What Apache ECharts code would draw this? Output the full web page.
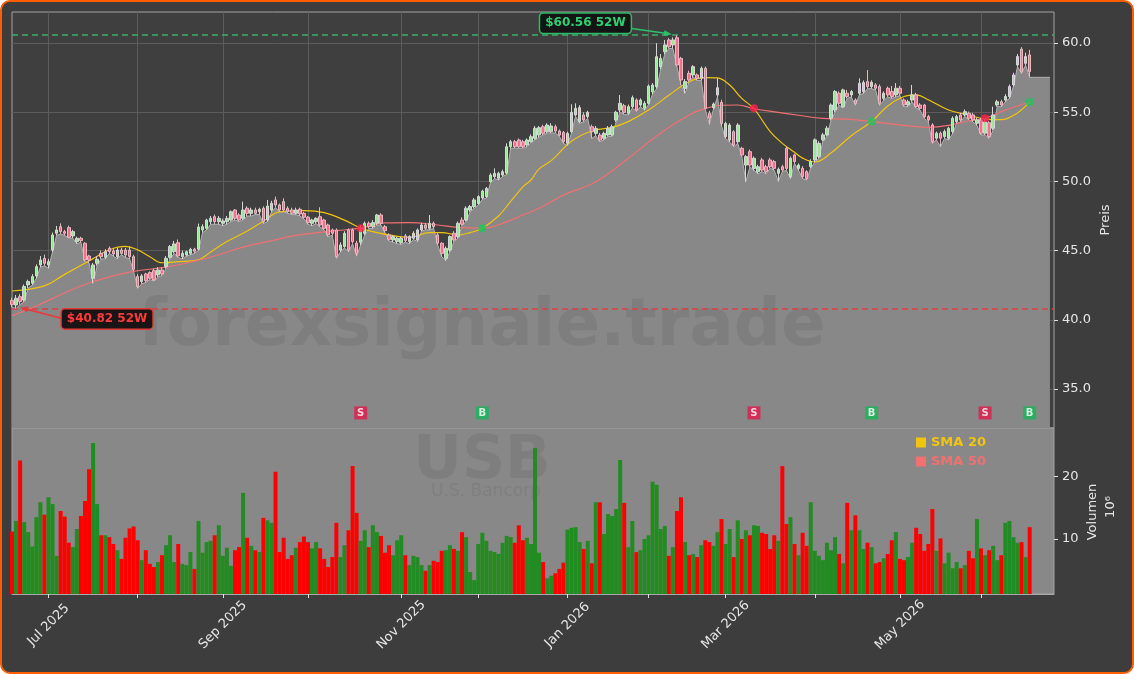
<!DOCTYPE html>
<html><head><meta charset="utf-8">
<script src="https://cdn.jsdelivr.net/npm/echarts@6/dist/echarts.min.js"></script>
<style>
html,body{margin:0;padding:0;background:#ffffff;}
#frame{position:absolute;left:0;top:0;width:1134px;height:674px;box-sizing:border-box;border:2.5px solid #ff5f00;border-radius:10px;background:#3d3d3d;}
#chart{position:absolute;left:0;top:0;width:1134px;height:674px;}
</style></head><body>
<div id="frame"></div><div id="chart"></div>
<script>
// ---------- data ----------
const opens = [
41.40,41.07,41.67,41.43,42.52,42.64,43.17,43.96,44.44,43.96,
45.04,46.25,46.73,46.37,46.66,46.06,45.65,45.89,45.53,44.61,
43.00,44.08,44.80,44.51,45.16,44.97,44.56,45.04,45.04,45.04,
44.56,43.12,42.76,43.31,43.41,43.55,43.24,43.60,43.84,44.51,
44.92,45.57,44.56,44.68,44.80,45.10,45.10,46.49,46.61,47.09,
47.45,47.09,46.97,47.09,47.21,47.93,47.57,47.33,48.06,47.69,
47.93,47.81,48.06,47.21,47.93,48.66,48.30,48.54,48.06,47.93,
47.69,47.98,47.69,47.41,46.97,47.09,47.45,47.21,46.85,46.49,
46.49,45.04,45.29,46.49,46.49,45.53,45.60,46.25,46.97,46.73,
46.97,47.57,46.73,46.13,45.77,45.65,45.57,46.06,45.65,45.89,
45.77,46.49,46.85,46.61,46.97,46.13,45.53,44.44,45.04,46.25,
46.01,47.20,47.21,47.93,48.18,48.40,48.80,48.90,49.98,50.34,
50.22,50.46,50.60,52.51,52.87,52.99,52.87,52.63,52.87,53.11,
53.35,53.95,53.59,53.59,53.95,53.64,53.54,52.75,53.59,54.80,
54.32,54.80,54.68,53.95,53.47,53.35,53.11,53.35,53.35,54.44,
55.16,55.47,54.92,55.40,55.88,55.52,55.28,55.64,56.48,56.84,
58.29,59.37,60.22,59.86,60.38,58.89,56.72,57.81,57.69,57.69,
57.45,58.17,54.92,55.33,56.24,55.71,53.23,52.99,53.59,52.87,
52.39,51.18,52.15,50.94,50.70,51.55,51.06,51.55,51.43,50.58,
51.06,52.39,50.34,51.91,50.94,50.95,50.71,51.07,51.55,51.79,
53.00,53.36,54.56,55.16,56.37,55.40,56.37,56.25,55.88,56.37,
56.49,57.21,56.85,56.97,56.85,56.00,56.73,56.49,56.25,56.73,
55.88,55.52,55.88,56.25,55.52,55.52,54.68,54.08,53.12,53.48,
53.24,53.12,53.60,54.32,54.80,54.80,54.92,54.80,54.20,54.44,
53.48,54.24,53.84,55.52,55.76,55.88,56.13,56.97,58.41,59.55,
58.53,59.14];
const highs = [
41.60,41.79,41.85,42.55,42.90,43.30,44.00,44.60,44.70,44.40,
46.30,46.78,46.97,46.50,46.80,46.50,46.00,46.00,45.60,44.70,
44.10,44.60,45.00,45.10,45.30,45.20,45.20,45.20,45.20,45.30,
44.70,43.30,43.30,43.40,43.50,43.70,43.80,43.80,44.60,45.40,
45.70,45.80,45.00,45.00,45.20,45.20,46.95,46.90,47.30,47.50,
47.60,47.50,47.30,47.50,47.90,48.00,47.70,48.54,48.20,48.10,
48.10,48.10,48.20,48.66,48.60,48.90,48.40,48.78,48.20,48.10,
48.10,48.10,47.80,47.50,47.30,47.40,48.13,47.30,46.95,46.60,
46.60,45.60,46.40,46.60,46.60,45.70,46.85,47.10,47.10,47.20,
47.65,47.70,46.85,46.25,46.10,46.00,46.00,46.20,46.10,46.40,
46.60,47.00,47.00,47.57,47.10,46.30,45.60,45.30,46.10,46.40,
47.10,47.40,48.20,48.30,48.80,49.00,49.40,49.60,50.60,50.94,
50.70,50.85,52.75,53.00,53.00,53.10,53.00,53.10,53.40,54.00,
54.00,54.10,54.20,54.20,54.10,53.75,53.65,53.60,55.57,55.64,
55.50,55.00,55.10,54.10,54.00,53.50,53.60,54.00,54.10,55.10,
56.24,55.60,55.55,56.20,56.00,56.00,55.80,57.00,57.10,59.98,
59.20,60.22,60.35,60.40,60.56,59.00,57.40,58.00,58.40,57.80,
58.30,58.30,55.10,55.70,57.45,55.90,54.30,54.20,53.70,54.20,
52.50,51.90,52.30,51.80,51.20,51.70,51.20,51.70,51.55,51.00,
51.20,52.50,51.80,52.00,51.30,51.10,50.80,51.60,53.10,52.90,
53.50,54.00,55.64,56.60,56.50,56.70,56.61,56.60,56.00,57.45,
57.30,58.05,57.30,57.10,57.00,56.50,56.85,56.90,57.10,56.90,
56.00,55.90,56.97,56.40,55.65,55.60,54.80,54.20,53.60,53.60,
53.75,53.95,54.70,54.80,54.95,55.20,55.05,54.95,54.60,54.60,
54.50,54.35,55.40,55.90,55.90,56.30,57.00,57.85,59.20,59.70,
59.30,59.50];
const lows = [
40.90,40.82,41.10,41.30,42.30,42.50,43.00,43.80,43.90,43.72,
44.90,46.10,46.20,46.10,45.90,45.90,45.50,45.60,44.20,44.10,
42.64,43.90,44.40,44.40,44.80,44.60,44.40,44.70,44.50,44.40,
43.50,42.27,42.60,42.70,42.90,42.80,43.10,43.20,43.70,44.40,
44.80,44.50,44.40,44.60,44.70,44.80,45.00,46.30,46.50,46.90,
46.90,46.90,46.80,46.90,47.10,47.20,47.10,47.20,47.50,47.50,
47.60,47.60,46.95,47.10,47.80,48.10,47.80,47.80,47.70,47.60,
47.60,47.50,47.30,46.90,46.80,46.95,46.70,46.50,46.00,46.10,
44.44,44.90,45.20,44.90,45.50,44.60,45.40,46.10,46.60,46.60,
46.85,46.85,46.30,45.70,45.60,45.50,45.45,45.60,45.50,45.80,
45.65,46.40,46.50,46.50,46.60,45.40,44.56,44.27,44.90,45.65,
45.90,46.80,47.10,47.80,48.05,48.30,48.70,48.80,49.90,50.20,
50.10,50.35,50.50,52.40,52.40,52.39,52.40,52.50,52.80,53.00,
53.20,53.35,53.50,53.50,53.50,53.25,52.75,52.60,53.50,54.70,
54.20,54.30,54.55,53.11,53.30,52.87,53.00,53.25,53.25,54.30,
55.00,54.85,54.80,55.30,55.05,55.40,55.15,55.55,56.30,56.70,
58.10,59.20,59.60,59.60,58.30,56.96,56.36,57.20,57.55,57.30,
57.30,55.20,54.12,55.20,56.10,54.00,53.10,52.85,52.50,52.75,
51.80,49.98,51.05,50.80,50.55,50.70,50.55,50.95,50.80,50.00,
50.70,50.80,50.20,51.30,50.80,50.20,50.10,50.95,51.40,51.65,
52.90,53.25,54.40,55.00,55.50,55.30,56.00,56.10,55.50,56.25,
56.35,56.70,56.70,56.60,55.50,55.85,56.10,56.00,56.10,56.20,
55.40,55.40,55.75,55.30,55.15,54.55,54.30,52.75,53.00,52.51,
53.10,53.00,53.45,54.20,54.30,54.70,54.45,54.30,54.05,53.36,
53.36,53.10,53.70,55.40,55.40,55.75,56.00,56.85,58.30,57.80,
58.40,57.52];
const closes = [
41.10,41.55,41.31,42.40,42.76,43.12,43.84,44.32,44.08,44.20,
46.13,46.49,46.37,46.25,45.96,46.37,45.89,45.72,44.32,44.32,
43.96,44.37,44.56,44.92,44.92,44.76,45.04,44.80,44.68,44.56,
43.65,42.40,43.17,42.83,43.00,42.88,43.60,43.31,44.44,45.29,
45.48,44.61,44.80,44.92,45.09,44.95,46.70,46.73,47.21,47.33,
47.09,47.33,47.14,47.33,47.81,47.33,47.21,47.93,47.69,47.93,
47.69,47.98,47.09,48.22,48.42,48.30,47.93,47.93,47.81,47.69,
47.93,47.65,47.41,47.02,47.21,47.33,46.85,46.61,46.13,46.25,
44.56,45.41,46.25,45.04,45.65,44.80,46.50,46.97,46.73,47.02,
47.57,46.97,46.44,45.81,46.01,45.89,45.89,45.72,46.01,46.25,
46.49,46.85,46.61,46.97,46.73,45.53,44.80,45.16,46.01,45.77,
46.97,46.90,48.06,48.18,48.66,48.90,49.30,49.50,50.46,50.58,
50.58,50.70,52.50,52.87,52.51,52.50,52.51,52.99,53.23,53.84,
53.88,53.47,54.07,54.00,53.64,53.35,52.87,53.47,54.99,55.28,
55.33,54.44,54.99,53.59,53.83,52.99,53.47,53.83,53.95,54.99,
55.64,54.99,55.40,56.05,55.16,55.88,55.64,56.89,56.96,59.01,
58.89,59.86,59.73,60.22,58.41,57.33,57.21,57.33,58.29,57.45,
58.17,55.28,54.56,55.59,56.77,54.19,54.19,54.07,52.63,54.07,
51.91,51.79,51.18,51.67,51.06,50.82,50.70,51.06,50.94,50.87,
50.82,50.94,51.67,51.43,51.18,50.35,50.22,51.43,53.00,52.75,
53.36,53.84,55.52,56.49,55.64,56.61,56.13,56.49,55.64,57.09,
57.14,56.85,57.16,56.73,55.64,56.37,56.25,56.13,56.73,56.37,
55.52,55.76,56.25,55.40,55.28,54.68,54.44,52.87,53.48,53.12,
53.60,53.84,54.56,54.68,54.44,55.04,54.56,54.44,54.44,53.48,
54.32,53.24,54.80,55.76,55.52,56.13,56.85,57.69,59.02,57.93,
59.02,57.93];
const volumes = [
11.2,12.9,22.6,12.7,11.1,8.8,13.5,15.9,13.9,16.7,
15.6,7.3,14.5,13.6,9.4,8.7,11.6,13.7,16.1,21.2,
25.4,15.6,10.6,10.6,10.3,9.2,8.2,6.8,10.2,11.7,
12.0,9.8,6.6,8.2,6.0,5.5,6.3,7.4,9.0,10.6,
6.3,9.2,6.0,5.8,7.9,5.2,12.9,7.8,9.5,9.7,
10.6,12.2,7.3,8.6,5.7,8.2,8.7,17.4,10.2,8.9,
8.2,7.9,13.4,13.0,12.6,20.8,7.9,10.2,6.8,7.4,
8.6,9.5,10.4,9.5,8.5,9.5,8.5,6.8,5.5,7.1,
12.6,7.1,9.0,11.4,21.7,14.2,9.7,11.4,8.7,12.2,
11.1,10.5,7.8,9.0,7.4,9.8,10.6,7.4,5.8,7.3,
7.1,5.8,4.9,5.8,6.5,6.3,8.1,8.2,9.0,8.4,
8.1,11.1,10.3,4.7,3.4,9.2,11.0,9.7,8.1,7.9,
7.6,9.4,10.5,10.3,9.4,12.2,9.8,10.2,9.2,24.6,
7.8,6.3,3.7,4.1,4.5,5.2,6.2,11.5,11.8,11.9,
9.5,8.4,9.7,6.1,15.9,15.9,10.8,14.0,13.7,14.8,
22.7,15.8,8.7,12.9,7.9,8.2,10.0,10.6,19.2,18.7,
11.6,12.1,7.3,8.7,14.5,16.7,9.5,7.4,7.6,7.1,
9.0,9.8,9.5,8.9,11.1,13.2,9.2,11.6,7.1,13.0,
10.0,11.4,10.6,12.2,12.1,11.0,10.8,8.4,10.6,9.7,
21.7,12.4,13.5,9.2,7.4,11.0,8.9,15.9,8.1,7.3,
6.6,9.4,8.2,10.3,7.6,6.1,15.8,11.4,13.8,11.4,
8.4,9.4,8.7,6.1,6.3,6.9,7.6,9.8,11.1,6.8,
6.6,7.1,9.4,11.8,10.8,8.1,9.2,14.8,8.1,10.1,
6.1,7.8,5.3,6.3,5.3,5.8,8.1,6.9,13.2,8.5,
7.4,8.2,8.9,6.6,7.4,12.6,12.9,10.3,9.4,9.5,
7.1,11.9];
// moving averages read at sample points [day index, value]
const sma20 = [[0,42.08],[8,42.45],[13,43.28],[20,44.42],[24,45.06],[28,45.3],[31,45.05],[34,44.56],[37,44.12],[41,44.2],[46,44.34],[49,44.9],[53,45.65],[57,46.25],[62,47.12],[66,47.8],[72,47.89],[77,47.74],[82,47.2],[86,46.62],[88,46.44],[93,46.13],[98,45.96],[103,46.3],[106,46.3],[110,46.13],[113,46.3],[116,46.62],[120,47.5],[123,48.56],[126,49.6],[128,50.1],[130,50.9],[133,51.5],[138,52.9],[143,53.64],[148,53.9],[152,54.32],[157,55.15],[162,56.22],[167,57.2],[171,57.5],[174,57.48],[177,56.96],[180,56.0],[183,55.25],[187,53.6],[190,52.75],[193,52.1],[195,51.68],[198,51.4],[202,52.05],[207,53.3],[212,54.33],[216,55.45],[220,56.13],[223,56.25],[226,55.9],[231,55.16],[236,54.8],[240,54.5],[244,54.46],[248,54.95],[251,55.74]];
const sma50 = [[0,40.3],[6,41.0],[13,41.95],[18,42.55],[24,43.1],[30,43.5],[38,43.8],[46,44.3],[51,44.7],[57,45.25],[63,45.65],[71,46.13],[80,46.44],[86,46.62],[92,47.0],[98,47.02],[105,46.85],[110,46.68],[116,46.62],[121,46.97],[126,47.57],[130,48.06],[136,49.02],[144,49.98],[152,51.67],[160,53.5],[167,54.8],[171,55.28],[175,55.5],[179,55.52],[183,55.25],[189,54.99],[194,54.78],[200,54.55],[206,54.5],[212,54.33],[219,54.08],[226,53.91],[231,54.05],[236,54.38],[240,54.56],[245,55.15],[251,55.74]];
const signalIdx = [86,116,183,212,240,251];
const signalType = ['S','B','S','B','S','B'];
const signalValue = [46.62,46.62,55.28,54.33,54.56,55.74];
const priceTicks = [35,40,45,50,55,60];
const volumeTicks = [10,20];
const high52 = 60.56, low52 = 40.82;
const holidays = ['2025-06-19','2025-07-04','2025-09-01','2025-11-27','2025-12-25','2026-01-01','2026-01-19','2026-02-16','2026-04-03','2026-05-25','2026-06-19'];
const firstDay = '2025-06-17';
const nCategories = 258;
const areaEnd = 256;

// ---------- build ----------
function ymd(d){return d.getUTCFullYear()+'-'+String(d.getUTCMonth()+1).padStart(2,'0')+'-'+String(d.getUTCDate()).padStart(2,'0');}
const dates=[];
{let p=firstDay.split('-').map(Number);let d=new Date(Date.UTC(p[0],p[1]-1,p[2]));
 while(dates.length<nCategories){const wd=d.getUTCDay();const s=ymd(d);if(wd!==0&&wd!==6&&holidays.indexOf(s)<0)dates.push(s);d=new Date(d.getTime()+86400000);}}
const MON=['Jan','Feb','Mar','Apr','May','Jun','Jul','Aug','Sep','Oct','Nov','Dec'];
const isMonthStart=i=>i>0&&dates[i].slice(0,7)!==dates[i-1].slice(0,7);
const isLabelMonth=i=>isMonthStart(i)&&((+dates[i].slice(5,7))-1)%2===0;
const FONT='DejaVu Sans';
const TXT='#e6e6e6';
const lastLow=lows[lows.length-1];
const areaData=dates.map((_,i)=>i<lows.length?lows[i]:(i<=areaEnd?lastLow:null));
const candleData=opens.map((o,i)=>[o,closes[i],lows[i],highs[i]]);
const volData=volumes.map((v,i)=>({value:v,itemStyle:{color:closes[i]>=opens[i]?'#228b22':'#ff0000'}}));
const signalRow=33.27;

const chart=echarts.init(document.getElementById('chart'),null,{renderer:'canvas'});
const option={
  animation:false,
  backgroundColor:'transparent',
  textStyle:{fontFamily:FONT},
  grid:[
    {left:12,top:12,width:1042,height:416,show:true,backgroundColor:'#3f3f3f',borderColor:'#a4a4a4',borderWidth:1,outerBoundsMode:'none'},
    {left:12,top:428,width:1042,height:166,show:true,backgroundColor:'#888888',borderColor:'#a4a4a4',borderWidth:1,outerBoundsMode:'none'}
  ],
  legend:{
    data:[{name:'SMA 20',textStyle:{color:'#f2c40f'}},{name:'SMA 50',textStyle:{color:'#f27070'}}],
    orient:'vertical',left:911,top:431,icon:'rect',itemWidth:10,itemHeight:10,itemGap:6,selectedMode:false,
    textStyle:{fontFamily:FONT,fontSize:13,fontWeight:'bold'}
  },
  xAxis:[
    {type:'category',gridIndex:0,data:dates,boundaryGap:false,axisLine:{show:false},axisTick:{show:false},axisLabel:{show:false},
     splitLine:{show:true,interval:(i)=>isMonthStart(i),lineStyle:{color:'#5c5c5c',width:1}}},
    {type:'category',gridIndex:1,data:dates,boundaryGap:false,axisLine:{show:true,lineStyle:{color:'#a8a8a8'}},
     axisTick:{show:true,interval:(i)=>isMonthStart(i),length:4,lineStyle:{color:'#e0e0e0'}},
     axisLabel:{interval:(i)=>isLabelMonth(i),rotate:45,align:'center',verticalAlign:'middle',margin:31,color:TXT,fontSize:13,fontFamily:FONT,
       formatter:(v)=>MON[+v.slice(5,7)-1]+' '+v.slice(0,4)},
     splitLine:{show:false}}
  ],
  yAxis:[
    {type:'value',gridIndex:0,position:'right',min:32.18,max:62.24,scale:true,
     axisLine:{show:false},axisTick:{show:true,length:4,lineStyle:{color:'#e0e0e0'},customValues:priceTicks},
     axisLabel:{customValues:priceTicks,color:TXT,fontSize:13,fontFamily:FONT,margin:8,
       formatter:(v)=>(Math.abs(v/5-Math.round(v/5))<1e-6?v.toFixed(1):'')},
     splitLine:{show:true,lineStyle:{color:'#5c5c5c',width:1}}},
    {type:'value',gridIndex:1,position:'right',min:1.17,max:27.82,splitNumber:3,scale:true,
     axisLine:{show:false},axisTick:{show:true,length:4,lineStyle:{color:'#e0e0e0'},customValues:volumeTicks},
     axisLabel:{customValues:volumeTicks,color:TXT,fontSize:13,fontFamily:FONT,margin:8,
       formatter:(v)=>(Math.abs(v/10-Math.round(v/10))<1e-6?String(Math.round(v)):'')},
     splitLine:{show:false}}
  ],
  series:[
    {name:'Tief',type:'line',xAxisIndex:0,yAxisIndex:0,data:areaData,symbol:'none',z:2,
     lineStyle:{color:'#b2b2b2',width:1},areaStyle:{color:'#888888',opacity:1},
     markLine:{symbol:'none',silent:true,label:{show:false},
       data:[{yAxis:high52,lineStyle:{color:'#3fae6a',type:[6,4],width:1.5}},{yAxis:low52,lineStyle:{color:'#d94242',type:[6,4],width:1.5}}]}},
    {name:'SMA 20',type:'line',xAxisIndex:0,yAxisIndex:0,data:sma20,smooth:0.4,symbol:'none',z:4,color:'#f2c40f',lineStyle:{color:'#f2c40f',width:1.2}},
    {name:'SMA 50',type:'line',xAxisIndex:0,yAxisIndex:0,data:sma50,smooth:0.4,symbol:'none',z:4,color:'#f27070',lineStyle:{color:'#f27070',width:1.2}},
    {name:'Kurs',type:'candlestick',xAxisIndex:0,yAxisIndex:0,data:candleData,barWidth:3,z:5,
     itemStyle:{color:'#98e898',color0:'#f4708c',borderColor:'#d6d6d6',borderColor0:'#e8b8c2',borderWidth:1}},
    {name:'Kreuzung',type:'scatter',xAxisIndex:0,yAxisIndex:0,symbol:'circle',symbolSize:8,z:6,
     data:signalIdx.map((ix,k)=>({value:[ix,signalValue[k]],itemStyle:{color:signalType[k]==='S'?'#ff1f4b':'#1fc45a'}}))},
    {name:'Signal',type:'scatter',xAxisIndex:0,yAxisIndex:0,symbol:'rect',symbolSize:13,z:6,
     data:signalIdx.map((ix,k)=>({value:[ix,signalRow],itemStyle:{color:signalType[k]==='S'?'#e3194b':'#16b55a'},
       label:{show:true,position:'inside',formatter:signalType[k],color:'#ffffff',fontWeight:'bold',fontSize:10,fontFamily:FONT}}))},
    {name:'Volumen',type:'bar',xAxisIndex:1,yAxisIndex:1,data:volData,barWidth:4,z:5}
  ]
};
chart.setOption(option);

// annotations positioned from data coordinates
function px(i,v){return chart.convertToPixel({xAxisIndex:0,yAxisIndex:0},[i,v]);}
let hiIdx=0;highs.forEach((h,i)=>{if(h>highs[hiIdx])hiIdx=i;});
let loIdx=0;lows.forEach((l,i)=>{if(l<lows[loIdx])loIdx=i;});
const hp=px(hiIdx,high52), lp=px(loIdx,low52);
const hiTip=[hp[0]-5,hp[1]-1], loTip=[lp[0]+4,lp[1]-1];
function arrow(start,tip,color){
  const dx=tip[0]-start[0],dy=tip[1]-start[1],len=Math.hypot(dx,dy),ux=dx/len,uy=dy/len,nx=-uy,ny=ux,L=8,W=6;
  return [
    {type:'line',z:20,shape:{x1:start[0],y1:start[1],x2:tip[0]-ux*L*0.6,y2:tip[1]-uy*L*0.6},style:{stroke:color,lineWidth:1.6}},
    {type:'polygon',z:20,shape:{points:[[tip[0],tip[1]],[tip[0]-ux*L+nx*W/2,tip[1]-uy*L+ny*W/2],[tip[0]-ux*L-nx*W/2,tip[1]-uy*L-ny*W/2]]},style:{fill:color}}
  ];
}
const WM='rgba(0,0,0,0.065)';
const graphics=[
  {type:'text',z:3,silent:true,style:{x:482,y:328,text:'forexsignale.trade',fill:WM,font:'bold 66px "DejaVu Sans"',align:'center',verticalAlign:'middle',textAlign:'center',textVerticalAlign:'middle'}},
  {type:'text',z:3,silent:true,style:{x:482,y:462,text:'USB',fill:WM,font:'bold 60px "DejaVu Sans"',align:'center',verticalAlign:'middle',textAlign:'center',textVerticalAlign:'middle'}},
  {type:'text',z:3,silent:true,style:{x:486,y:492,text:'U.S. Bancorp',fill:WM,font:'17px "DejaVu Sans"',align:'center',verticalAlign:'middle',textAlign:'center',textVerticalAlign:'middle'}},
  {type:'text',z:10,x:1106,y:220,rotation:Math.PI/2,style:{x:0,y:0,text:'Preis',fill:TXT,font:'13px "DejaVu Sans"',align:'center',verticalAlign:'middle',textAlign:'center',textVerticalAlign:'middle'}},
  {type:'text',z:10,x:1093,y:512,rotation:Math.PI/2,style:{x:0,y:0,text:'Volumen',fill:TXT,font:'13px "DejaVu Sans"',align:'center',verticalAlign:'middle',textAlign:'center',textVerticalAlign:'middle'}},
  {type:'text',z:10,x:1111,y:507,rotation:Math.PI/2,style:{x:0,y:0,text:'10⁶',fill:TXT,font:'13px "DejaVu Sans"',align:'center',verticalAlign:'middle',textAlign:'center',textVerticalAlign:'middle'}},
  {type:'text',z:21,style:{x:hiTip[0]-86.5,y:hiTip[1]-11,text:'$'+high52.toFixed(2)+' 52W',fill:'#2fd072',font:'bold 12px "DejaVu Sans"',align:'center',verticalAlign:'middle',textAlign:'center',textVerticalAlign:'middle',
    backgroundColor:'#151515',borderColor:'#2fb866',borderWidth:1.5,borderRadius:3,padding:[4,5,3,5]}},
  {type:'text',z:21,style:{x:loTip[0]+87,y:loTip[1]+11.5,text:'$'+low52.toFixed(2)+' 52W',fill:'#ff3a3a',font:'bold 12px "DejaVu Sans"',align:'center',verticalAlign:'middle',textAlign:'center',textVerticalAlign:'middle',
    backgroundColor:'#1a1414',borderColor:'#e03a3a',borderWidth:1.5,borderRadius:3,padding:[4,5,3,5]}}
].concat(arrow([hiTip[0]-42,hiTip[1]-6],hiTip,'#2fc06a')).concat(arrow([loTip[0]+42,loTip[1]+11],loTip,'#e83a3a'));
chart.setOption({graphic:graphics});
</script>
</body></html>
